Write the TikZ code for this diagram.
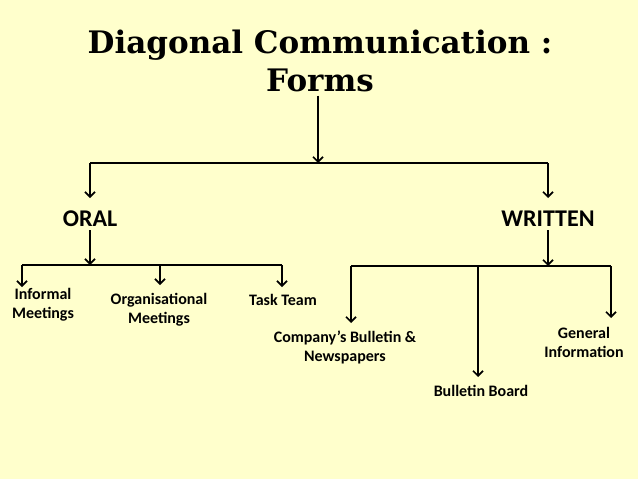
\documentclass[tikz,border=0pt]{standalone}
\usepackage{fontspec}
\setsansfont{Carlito}
\newfontfamily\titlefont{DejaVu Serif}
\usetikzlibrary{arrows.meta}
\definecolor{slidebg}{HTML}{FFFFCC}
\tikzset{
  link/.style={line width=1.7pt},
  arr/.style={link,-{Straight Barb[length=5pt,width=10pt,line width=1.7pt]}},
  heading/.style={font=\titlefont\bfseries\fontsize{31}{38}\selectfont,align=center},
  form/.style={font=\sffamily\bfseries\fontsize{24}{26}\selectfont},
  leaf/.style={font=\sffamily\bfseries\fontsize{16}{19}\selectfont,align=center,inner sep=1pt}
}
\begin{document}
\begin{tikzpicture}[x=1pt,y=-1pt,line cap=butt,line join=miter]
  \fill[slidebg] (0,0) rectangle (638,479);
  \useasboundingbox (0,0) rectangle (638,479);
  % title and the two forms
  \node[heading] (title) at (320,61) {Diagonal Communication :\\Forms};
  \coordinate (hub) at (318,163);
  \node[form] (oral) at (90,219) {ORAL};
  \node[form] (written) at (548,219) {WRITTEN};
  \coordinate (oralL) at (90,163);
  \coordinate (writR) at (548,163);
  \draw[arr] (title.south -| hub) -- (hub);
  \draw[link] (oralL) -- (writR);
  \draw[arr] (oralL) -- (90,198);
  \draw[arr] (writR) -- (548,198);
  % oral branch
  \coordinate (oralhub) at (90,265);
  \coordinate (o1) at (22,265);
  \coordinate (o2) at (160,265);
  \coordinate (o3) at (282,265);
  \coordinate (o1t) at (22,287);
  \coordinate (o2t) at (160,285);
  \coordinate (o3t) at (282,287);
  \node[leaf] (informal) at (43,305) {Informal\\Meetings};
  \node[leaf] (organ) at (159,310) {Organisational\\Meetings};
  \node[leaf] (task) at (283,300) {Task Team};
  \draw[arr] (oral.south) -- (oralhub);
  \draw[link] (o1) -- (o3);
  \draw[arr] (o1) -- (o1t);
  \draw[arr] (o2) -- (o2t);
  \draw[arr] (o3) -- (o3t);
  % written branch
  \coordinate (writhub) at (548,266);
  \coordinate (w1) at (351,266);
  \coordinate (w2) at (478,266);
  \coordinate (w3) at (611,266);
  \coordinate (w1t) at (351,323);
  \coordinate (w2t) at (478,377);
  \coordinate (w3t) at (611,318);
  \node[leaf] (company) at (345,347) {Company’s Bulletin \&\\Newspapers};
  \node[leaf] (board) at (481,391) {Bulletin Board};
  \node[leaf] (general) at (584,342) {General\\Information};
  \draw[arr] (written.south) -- (writhub);
  \draw[link] (w1) -- (w3);
  \draw[arr] (w1) -- (w1t);
  \draw[arr] (w2) -- (w2t);
  \draw[arr] (w3) -- (w3t);
\end{tikzpicture}
\end{document}
